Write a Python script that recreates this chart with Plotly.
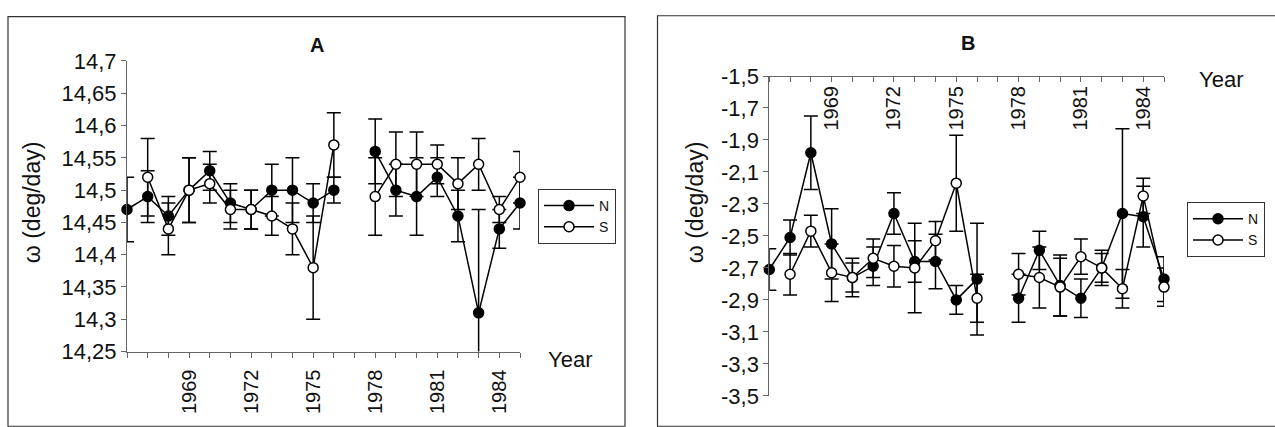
import plotly.graph_objects as go

W, H = 1275, 427

years = list(range(1966, 1986))
year_labels = ["1969", "1972", "1975", "1978", "1981", "1984"]

# Panel A
a_n = [14.47, 14.49, 14.46, 14.50, 14.53, 14.48, 14.47, 14.50, 14.50, 14.48,
       14.50, None, 14.56, 14.50, 14.49, 14.52, 14.46, 14.31, 14.44, 14.48]
a_n_err = [0.05, 0.04, 0.03, 0.05, 0.03, 0.03, 0.03, 0.04, 0.05, 0.03,
           0.02, None, 0.05, 0.04, 0.06, 0.03, 0.04, 0.16, 0.03, 0.04]
a_s = [None, 14.52, 14.44, 14.50, 14.51, 14.47, 14.47, 14.46, 14.44, 14.38,
       14.57, None, 14.49, 14.54, 14.54, 14.54, 14.51, 14.54, 14.47, 14.52]
a_s_err = [None, 0.06, 0.04, 0.05, 0.03, 0.03, 0.03, 0.03, 0.04, 0.08,
           0.05, None, 0.06, 0.05, 0.05, 0.03, 0.04, 0.04, 0.02, 0.04]
a_yticks = [14.25, 14.3, 14.35, 14.4, 14.45, 14.5, 14.55, 14.6, 14.65, 14.7]
a_ytext = ["14,25", "14,3", "14,35", "14,4", "14,45", "14,5", "14,55", "14,6", "14,65", "14,7"]

# Panel B
b_n = [-2.71, -2.51, -1.98, -2.55, -2.76, -2.69, -2.36, -2.66, -2.66, -2.90,
       -2.77, None, -2.89, -2.59, -2.81, -2.89, -2.70, -2.36, -2.38, -2.77]
b_n_err = [0.13, 0.11, 0.23, 0.22, 0.09, 0.12, 0.13, 0.13, 0.17, 0.09,
           0.35, None, 0.15, 0.12, 0.19, 0.12, 0.11, 0.53, 0.19, 0.14]
b_s = [None, -2.74, -2.47, -2.73, -2.76, -2.64, -2.69, -2.70, -2.53, -2.17,
       -2.89, None, -2.74, -2.76, -2.82, -2.63, -2.70, -2.83, -2.25, -2.82]
b_s_err = [None, 0.13, 0.10, 0.18, 0.12, 0.12, 0.13, 0.28, 0.12, 0.30,
           0.15, None, 0.13, 0.19, 0.18, 0.11, 0.09, 0.12, 0.11, 0.12]
b_yticks = [-3.5, -3.3, -3.1, -2.9, -2.7, -2.5, -2.3, -2.1, -1.9, -1.7, -1.5]
b_ytext = ["-3,5", "-3,3", "-3,1", "-2,9", "-2,7", "-2,5", "-2,3", "-2,1", "-1,9", "-1,7", "-1,5"]

xticktext = [str(y) if str(y) in year_labels else "" for y in years]

FONT = "Liberation Sans, Arial, sans-serif"


def px(x):
    return x / W


def py(y):
    return 1 - y / H


def series(x, y, err, name, filled, xa, ya, legend):
    return go.Scatter(
        x=x, y=y, name=name, mode="lines+markers", xaxis=xa, yaxis=ya,
        legend=legend, showlegend=True, connectgaps=False, cliponaxis=False,
        line=dict(color="black", width=1.5),
        marker=dict(size=10, symbol="circle",
                    color="black" if filled else "white",
                    line=dict(color="black", width=1.5)),
        error_y=dict(type="data", array=err, visible=True, color="black",
                     thickness=1.5, width=7),
    )


fig = go.Figure()
fig.add_trace(series(years, a_n, a_n_err, "N", True, "x", "y", "legend"))
fig.add_trace(series(years, a_s, a_s_err, "S", False, "x", "y", "legend"))
fig.add_trace(series(years, b_n, b_n_err, "N", True, "x2", "y2", "legend2"))
fig.add_trace(series(years, b_s, b_s_err, "S", False, "x2", "y2", "legend2"))

axis_common = dict(showgrid=False, zeroline=False, showline=True, linecolor="#666",
                   linewidth=1, ticks="outside", ticklen=5, tickcolor="#666")
xfont = dict(family=FONT, size=20, color="#111")
yfont = dict(family=FONT, size=22, color="#111")

fig.update_layout(
    width=W, height=H, margin=dict(l=0, r=0, t=0, b=0),
    paper_bgcolor="white", plot_bgcolor="white",
    font=dict(family=FONT, color="#111"),
    xaxis=dict(domain=[px(127), px(520)], range=[1966, 1985], anchor="y",
               tickvals=years, ticktext=xticktext, tickangle=-90,
               tickfont=xfont, ticklabelstandoff=4, **axis_common),
    yaxis=dict(domain=[py(360.7), py(52)], range=[14.25, 14.7], anchor="x",
               tickvals=a_yticks, ticktext=a_ytext, tickfont=yfont, **axis_common),
    xaxis2=dict(domain=[px(769.3), px(1164)], range=[1966, 1985], anchor="free",
                position=py(68), side="bottom",
                tickvals=years, ticktext=xticktext, tickangle=-90,
                tickfont=xfont, ticklabelstandoff=-4, **axis_common),
    yaxis2=dict(domain=[py(407.7), py(68)], range=[-3.5, -1.5], anchor="x2",
                tickvals=b_yticks, ticktext=b_ytext, tickfont=yfont, **axis_common),
    legend=dict(x=px(538), y=py(188), xanchor="left", yanchor="top",
                bordercolor="#333", borderwidth=1, bgcolor="white", itemwidth=50,
                font=dict(family=FONT, size=14), tracegroupgap=4),
    legend2=dict(x=px(1187), y=py(202), xanchor="left", yanchor="top",
                 bordercolor="#333", borderwidth=1, bgcolor="white", itemwidth=50,
                 font=dict(family=FONT, size=14), tracegroupgap=4),
    showlegend=True,
)

# Panel frames
fig.add_shape(type="rect", xref="paper", yref="paper", x0=px(8), x1=px(625),
              y0=py(440), y1=py(5), line=dict(color="#333", width=1.2))
fig.add_shape(type="rect", xref="paper", yref="paper", x0=px(657.5), x1=px(1290),
              y0=py(440), y1=py(4), line=dict(color="#333", width=1.2))

for text, xx, yy in [("<b>A</b>", 317, 35), ("<b>B</b>", 968, 33)]:
    fig.add_annotation(text=text, x=px(xx), y=py(yy), xref="paper", yref="paper",
                       showarrow=False, xanchor="center", yanchor="middle",
                       font=dict(family=FONT, size=20, color="#111"))

for xx, yy in [(546, 369), (1197, 72)]:
    fig.add_annotation(text="Year", x=px(xx), y=py(yy), xref="paper", yref="paper",
                       showarrow=False, xanchor="left", yanchor="middle",
                       font=dict(family=FONT, size=22, color="#111"))

for xx in [32, 695]:
    fig.add_annotation(text="ω (deg/day)", x=px(xx), y=py(202), xref="paper", yref="paper",
                       showarrow=False, xanchor="center", yanchor="middle", textangle=-90,
                       font=dict(family=FONT, size=23, color="#111"))

fig.write_html("out.html")
